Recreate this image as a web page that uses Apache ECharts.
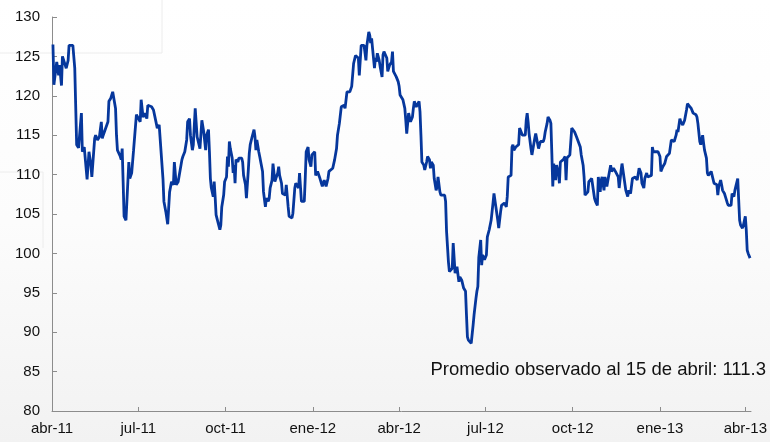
<!DOCTYPE html>
<html>
<head>
<meta charset="utf-8">
<script src="https://cdn.jsdelivr.net/npm/echarts@6/dist/echarts.min.js"></script>
<style>
html, body { margin: 0; padding: 0; background: #fff; }
#chart { width: 770px; height: 442px; }
</style>
</head>
<body>
<div id="chart"></div>
<script>
// dias contados desde el 1 de abril de 2011
var startDate = Date.UTC(2011, 3, 1)
var DAY = 86400000

var days = [
	1,2,5,7,8,10,11,13,15,17,
	18,20,22,24,26,28,29,31,32,34,
	36,37,39,41,42,43,45,46,48,50,
	52,53,54,56,59,60,62,64,65,67,
	68,69,72,73,74,75,76,78,79,81,
	82,84,86,88,89,91,93,94,96,98,
	100,101,103,105,107,109,111,113,114,117,
	118,120,122,123,124,126,128,129,131,133,
	135,137,138,140,142,143,145,146,148,149,
	151,152,153,155,156,158,159,160,162,163,
	165,166,167,168,170,171,172,173,175,177,
	178,179,181,182,184,185,186,187,188,190,
	191,192,193,194,196,197,198,200,201,202,
	204,205,207,208,209,211,213,214,215,216,
	218,219,221,222,223,225,226,228,229,230,
	232,233,235,236,238,239,240,242,243,244,
	246,247,249,250,252,253,254,256,257,259,
	260,261,263,264,266,267,268,270,271,273,
	274,275,277,278,280,281,282,284,285,287,
	288,289,291,292,296,298,300,301,303,304,
	305,307,308,309,311,312,314,316,317,318,
	320,321,323,324,325,326,328,329,331,332,
	334,335,336,337,338,340,341,342,343,345,
	346,348,349,350,351,353,354,355,356,358,
	359,360,362,363,365,366,367,369,370,372,
	373,374,376,377,378,380,381,382,384,385,
	387,388,389,390,392,393,395,396,398,399,
	400,402,403,405,406,407,409,410,412,414,
	415,416,418,419,420,422,423,425,426,427,
	429,430,432,433,434,436,437,438,439,441,
	442,444,445,446,447,448,449,450,452,453,
	454,456,458,459,461,463,465,466,467,468,
	470,471,473,474,475,477,479,480,481,482,
	484,485,486,487,489,490,492,493,494,496,
	497,499,500,501,502,503,505,506,508,509,
	510,512,513,515,516,518,519,520,522,523,
	525,526,527,528,529,531,532,534,535,536,
	538,539,541,542,543,544,546,547,548,550,
	551,553,554,555,557,558,560,561,562,563,
	565,566,568,569,570,572,573,575,576,578,
	579,580,582,583,585,586,587,589,590,592,
	593,594,596,597,598,600,601,603,605,607,
	608,610,612,614,615,617,619,621,622,624,
	625,627,628,630,632,633,634,636,639,640,
	641,642,644,645,646,648,649,651,652,653,
	655,656,658,659,660,662,663,665,666,667,
	669,670,672,673,674,676,677,679,680,681,
	683,684,686,687,688,690,691,692,694,695,
	697,698,699,701,702,703,705,706,707,709,
	710,712,713,714,716,717,719,720,721,723,
	724,725,726,728,729,731,732,733,734,736
]

var values = [
	126.5,121.4,124.3,122.6,123.9,121.3,125.0,124.8,123.5,124.5,
	126.4,126.2,126.4,123.5,113.8,113.4,113.3,117.8,112.9,113.5,
	113.7,109.4,112.9,111.2,109.7,109.5,114.6,115.0,114.4,114.8,
	116.7,114.6,115.0,115.2,116.7,119.3,119.7,120.5,120.7,118.4,
	115.0,113.1,112.3,111.9,113.3,109.1,104.7,104.2,104.2,111.6,
	109.5,110.2,113.1,113.3,117.6,117.8,116.7,119.5,117.3,117.8,
	117.1,118.8,119.0,118.6,118.2,118.0,115.9,116.3,116.1,109.5,
	106.6,105.3,103.7,103.6,107.8,109.1,108.7,111.6,108.7,109.1,
	108.9,111.9,112.3,112.9,114.4,116.7,117.1,115.0,113.1,113.8,
	118.4,118.6,114.8,114.6,113.3,116.9,116.7,115.4,113.1,115.0,
	115.7,112.9,109.5,108.3,107.2,109.1,107.2,104.9,104.7,103.0,
	103.6,105.9,107.4,109.1,109.7,112.3,111.0,114.2,113.3,112.1,
	110.2,111.2,108.9,111.9,111.6,112.1,111.9,112.1,111.6,109.9,
	108.7,107.0,110.6,112.7,113.8,114.8,115.7,114.8,113.1,114.4,
	112.9,112.3,112.1,110.4,107.8,105.9,107.0,106.6,107.0,108.3,
	109.3,111.4,109.1,109.5,110.2,111.0,109.9,108.9,107.6,107.6,
	107.4,108.7,105.9,104.7,104.5,104.5,105.1,108.3,108.9,108.9,
	108.3,110.2,106.6,106.4,106.6,109.5,112.9,113.5,111.9,111.0,
	112.5,112.7,112.9,109.9,110.4,110.2,109.7,109.5,108.5,109.3,
	109.1,108.5,109.5,110.4,110.8,111.9,113.3,115.0,116.5,116.7,
	118.6,118.6,118.8,118.4,120.5,120.7,120.5,121.2,121.2,124.1,
	125.1,125.0,124.8,122.6,122.6,126.4,126.4,126.4,124.5,126.4,
	128.1,127.7,126.7,127.3,126.0,123.5,124.8,124.3,125.4,124.5,
	123.7,122.4,125.2,125.6,125.8,124.8,123.1,123.5,123.9,124.3,
	125.6,123.1,122.9,122.4,121.8,121.2,120.1,120.3,119.5,118.4,
	116.9,115.2,117.8,117.8,116.7,117.3,118.4,119.3,118.6,118.8,
	119.3,118.0,115.0,111.6,111.2,110.6,111.6,112.3,111.9,110.8,
	111.6,111.2,109.5,108.0,108.5,109.7,107.8,107.4,107.6,107.4,
	106.6,102.8,98.9,97.7,97.5,98.1,101.3,97.5,97.7,98.3,
	96.4,97.0,96.6,96.4,95.6,95.2,92.2,89.4,89.0,89.0,
	88.6,90.9,92.2,92.0,94.3,95.2,95.8,99.5,101.7,98.5,
	99.8,99.2,99.8,102.1,103.0,104.2,106.4,107.6,107.4,105.9,
	104.2,103.2,105.3,106.1,105.9,106.4,105.9,107.2,109.7,109.7,
	109.9,113.5,113.8,113.1,113.5,113.5,113.8,115.9,116.1,115.0,
	114.8,115.0,116.9,117.8,116.7,115.2,113.3,112.5,112.5,114.6,
	115.2,115.4,113.3,114.2,114.4,114.2,114.6,115.4,116.5,117.3,
	116.9,116.5,112.7,108.5,111.4,109.3,111.2,110.2,108.9,111.6,
	111.4,111.9,112.3,109.3,112.1,112.3,112.5,112.7,115.9,116.1,
	115.4,114.8,114.6,114.6,113.5,112.5,111.2,109.7,107.4,107.6,
	107.8,109.1,108.9,109.5,109.7,107.0,106.6,106.1,109.7,107.8,
	109.3,109.7,108.0,109.7,108.5,108.3,109.9,111.2,110.4,110.8,
	110.6,110.4,110.2,109.7,108.3,110.5,111.4,111.4,108.0,107.2,
	108.0,107.6,109.5,109.5,109.7,109.3,110.8,110.2,108.9,108.3,
	109.5,110.2,109.7,109.9,109.9,113.5,112.9,112.9,112.9,112.9,
	112.3,110.4,111.0,111.0,111.4,112.3,112.5,112.7,112.9,114.4,
	114.2,114.2,115.0,115.7,115.4,117.1,116.7,116.3,116.5,116.9,
	118.2,119.0,118.7,118.6,118.4,117.8,117.6,117.6,117.3,116.5,
	114.2,113.8,115.0,114.0,113.1,112.1,110.2,109.9,109.9,110.4,
	110.2,108.9,108.9,108.7,107.4,108.5,109.3,108.7,108.0,107.6,
	107.2,106.4,106.1,106.1,106.1,107.6,107.2,108.0,108.5,109.5,
	106.8,104.2,103.6,103.2,103.6,104.7,103.0,100.4,100.0,99.4
]

// marcas trimestrales del eje x
var tickMonths = [[2011,3],[2011,6],[2011,9],[2012,0],[2012,3],[2012,6],[2012,9],[2013,0],[2013,3]]
var tickLabels = ['abr-11','jul-11','oct-11','ene-12','abr-12','jul-12','oct-12','ene-13','abr-13']
var note = 'Promedio observado al 15 de abril: 111.3'

var tickDays = tickMonths.map(function (m) { return Math.round((Date.UTC(m[0], m[1], 1) - startDate) / DAY) })
var lineData = days.map(function (d, i) { return [d, values[i]] })

var font = '"Liberation Sans", Arial, sans-serif'
var myChart = echarts.init(document.getElementById('chart'), null, { renderer: 'canvas' })

myChart.setOption({
	animation: false,
	backgroundColor: new echarts.graphic.LinearGradient(0, 0, 0, 1, [
		{ offset: 0, color: '#ffffff' },
		{ offset: 0.5, color: '#fcfcfc' },
		{ offset: 1, color: '#f2f2f2' }
	]),
	grid: { left: 52, right: 18, top: 17, bottom: 31, containLabel: false },
	xAxis: {
		type: 'value',
		min: 0,
		max: 737,
		axisLine: { show: true, lineStyle: { color: '#8c8c8c', width: 1 } },
		axisTick: { show: true, inside: true, length: 4, customValues: tickDays, lineStyle: { color: '#8c8c8c' } },
		axisLabel: {
			customValues: tickDays,
			margin: 10,
			fontSize: 15,
			fontFamily: font,
			color: '#111',
			formatter: function (v) {
				var i = tickDays.indexOf(v)
				return i >= 0 ? tickLabels[i] : ''
			}
		},
		splitLine: { show: false }
	},
	yAxis: {
		type: 'value',
		min: 80,
		max: 130,
		interval: 5,
		axisLine: { show: true, lineStyle: { color: '#8c8c8c', width: 1 } },
		axisTick: { show: true, inside: true, length: 5, lineStyle: { color: '#8c8c8c' } },
		axisLabel: { margin: 12, fontSize: 15, fontFamily: font, color: '#111' },
		splitLine: { show: false }
	},
	graphic: [
		{ type: 'polyline', silent: true, z: -1, shape: { points: [[0, 53], [162, 53], [162, 0]] }, style: { stroke: '#ececec', lineWidth: 1, fill: null } },
		{ type: 'polyline', silent: true, z: -1, shape: { points: [[0, 172], [43, 172], [43, 248]] }, style: { stroke: '#ececec', lineWidth: 1, fill: null } },
		{
			type: 'text',
			right: 4,
			top: 360,
			style: { text: note, fontSize: 18.5, fontFamily: font, fill: '#111' }
		}
	],
	series: [
		{
			name: 'indice',
			type: 'line',
			data: lineData,
			showSymbol: false,
			symbol: 'none',
			lineStyle: { color: '#06379c', width: 2.8 },
			z: 3
		}
	]
})
</script>
</body>
</html>
